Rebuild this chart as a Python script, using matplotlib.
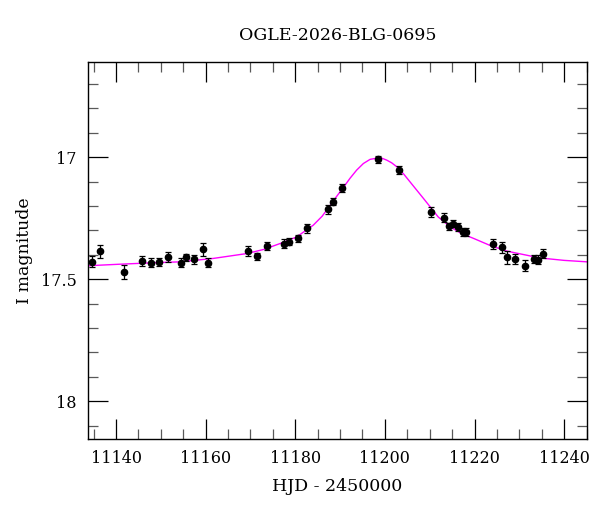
import numpy as np
import matplotlib
matplotlib.use("Agg")
import matplotlib.pyplot as plt
from matplotlib.ticker import MultipleLocator

# photometry (HJD - 2450000, I mag, error)
hjd = [11134.7, 11136.5, 11141.7, 11145.7, 11147.7, 11149.5, 11151.5, 11154.4,
       11155.6, 11157.5, 11159.4, 11160.6,
       11169.5, 11171.4, 11173.6, 11177.5, 11178.5, 11180.6, 11182.6, 11187.3,
       11188.5, 11190.4, 11198.4, 11203.2,
       11210.3, 11213.1, 11214.2, 11215.2, 11216.3, 11217.4, 11218.0, 11224.2,
       11226.2, 11227.3, 11229.0, 11231.3, 11233.2, 11234.1, 11235.3]
mag = [17.429, 17.385, 17.471, 17.425, 17.432, 17.429, 17.409, 17.432,
       17.411, 17.419, 17.378, 17.432,
       17.384, 17.406, 17.365, 17.354, 17.346, 17.333, 17.292, 17.214,
       17.183, 17.127, 17.009, 17.053,
       17.225, 17.248, 17.283, 17.273, 17.286, 17.307, 17.306, 17.356,
       17.369, 17.411, 17.417, 17.444, 17.417, 17.420, 17.395]
err = [0.023, 0.027, 0.028, 0.019, 0.020, 0.016, 0.020, 0.020,
       0.014, 0.017, 0.027, 0.020,
       0.020, 0.015, 0.016, 0.018, 0.016, 0.014, 0.017, 0.017,
       0.015, 0.016, 0.014, 0.015,
       0.022, 0.019, 0.014, 0.014, 0.015, 0.016, 0.016, 0.019,
       0.022, 0.028, 0.020, 0.022, 0.017, 0.018, 0.017]

# model curve
model_t = [11133.75, 11140.5, 11148.0, 11154.3, 11161.7, 11169.2, 11173.0,
           11176.6, 11180.3, 11184.0, 11186.0, 11187.8, 11188.9, 11190.0,
           11191.1, 11192.2, 11193.7, 11195.2, 11196.7, 11198.2, 11199.3,
           11200.4, 11201.5, 11202.7, 11204.1, 11205.6, 11207.1, 11208.6,
           11210.3, 11211.9, 11214.6, 11217.0, 11219.8, 11223.5, 11227.2,
           11234.6, 11240.0, 11245.1]
model_m = [17.445, 17.439, 17.433, 17.429, 17.415, 17.395, 17.378,
           17.354, 17.327, 17.279, 17.242, 17.197, 17.169, 17.142,
           17.115, 17.087, 17.053, 17.026, 17.009, 17.004, 17.004,
           17.012, 17.023, 17.040, 17.067, 17.101, 17.135, 17.169,
           17.208, 17.245, 17.286, 17.312, 17.333, 17.362, 17.385,
           17.413, 17.423, 17.429]

plt.rcParams['font.family'] = ['DejaVu Serif']

fig = plt.figure(figsize=(6, 5.12), dpi=100)
ax = fig.add_axes([0.1467, 0.1426, 0.8316, 0.7363])

ax.plot(model_t, model_m, color='#ff00ff', lw=1.0, zorder=2)
ax.errorbar(hjd, mag, yerr=err, fmt='o', color='black', ms=4.5,
            ecolor='black', elinewidth=0.9, capsize=2.3, capthick=0.9, zorder=3)

ax.set_xlim(11133.75, 11245.1)
ax.set_ylim(18.155, 16.61)

ax.xaxis.set_major_locator(MultipleLocator(20))
ax.xaxis.set_minor_locator(MultipleLocator(5))
ax.yaxis.set_major_locator(MultipleLocator(0.5))
ax.yaxis.set_minor_locator(MultipleLocator(0.1))
ax.yaxis.set_major_formatter(plt.FuncFormatter(lambda v, p: f"{v:g}"))

ax.tick_params(which='both', direction='in', top=True, right=True, labelsize=11.5)
ax.tick_params(which='major', length=14.5, width=0.9, color='black', pad=8)
ax.tick_params(which='minor', length=7, width=0.9, color='0.35')
for s in ax.spines.values():
    s.set_linewidth(1.0)

ax.set_title("OGLE-2026-BLG-0695", fontsize=12.5, pad=16)
ax.set_xlabel("HJD - 2450000", fontsize=12.5, labelpad=8)
ax.set_ylabel("I magnitude", fontsize=12.5, labelpad=6)

fig.savefig("out.png", dpi=100)
